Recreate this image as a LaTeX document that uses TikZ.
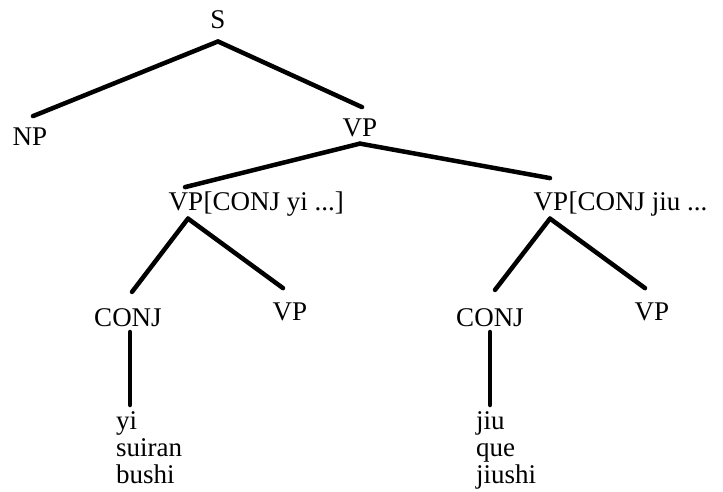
\documentclass[tikz,border=0pt]{standalone}
\usepackage{fontspec}
\setmainfont{Liberation Serif}
\usetikzlibrary{positioning}

\tikzset{
  cat/.style={inner sep=0pt, anchor=base, font=\fontsize{27}{27}\selectfont},
  words/.style={inner sep=0pt, anchor=north west, align=left, font=\fontsize{27}{27}\selectfont},
  branch/.style={line width=4.5pt, line cap=round},
}

\begin{document}
\begin{tikzpicture}[x=1pt,y=-1pt]
\useasboundingbox (0,0) rectangle (723,492);
% categories
\node[cat] (S) at (218,29) {S};
\node[cat] (NP) at (30,146) {NP};
\node[cat] (VP) at (360,137) {VP};
\node[cat] (VPyi) at (186,211) {VP};
\node[cat, anchor=base west] (yifeat) at (VPyi.base east) {[CONJ yi ...]};
\node[cat] (VPjiu) at (551,211) {VP};
\node[cat, anchor=base west] (jiufeat) at (VPjiu.base east) {[CONJ jiu ...};
\node[cat] (CONJyi) at (128,326) {CONJ};
\node[cat] (VPa) at (290,320) {VP};
\node[cat] (CONJjiu) at (490,326) {CONJ};
\node[cat] (VPb) at (652,320) {VP};
% lexical items
\node[words] (yiwords) at (116,411) {yi\\suiran\\bushi};
\node[words] (jiuwords) at (476,411) {jiu\\que\\jiushi};

% S
\draw[branch] ([yshift=-12pt]S.south) -- ([xshift=3pt,yshift=12pt]NP.north);
\draw[branch] ([yshift=-12pt]S.south) -- ([xshift=2pt,yshift=12pt]VP.north);
% VP
\draw[branch] ([yshift=-6pt]VP.south) -- ([xshift=-1pt,yshift=6pt]VPyi.north);
\draw[branch] ([yshift=-6pt]VP.south) -- ([xshift=-1pt,yshift=15pt]VPjiu.north);
% VP[CONJ yi ...]
\draw[branch] ([xshift=2pt,yshift=-7pt]VPyi.south) -- ([xshift=4pt,yshift=16pt]CONJyi.north);
\draw[branch] ([xshift=2pt,yshift=-7pt]VPyi.south) -- ([xshift=-7pt,yshift=14pt]VPa.north);
% VP[CONJ jiu ...
\draw[branch] ([xshift=-1pt,yshift=-7pt]VPjiu.south) -- ([xshift=5pt,yshift=18pt]CONJjiu.north);
\draw[branch] ([xshift=-1pt,yshift=-7pt]VPjiu.south) -- ([xshift=-7pt,yshift=14pt]VPb.north);
% CONJ
\draw[branch] ([xshift=2pt,yshift=-6pt]CONJyi.base) -- ([xshift=14pt,yshift=6pt]yiwords.north west);
\draw[branch] ([yshift=-6pt]CONJjiu.base) -- ([xshift=14pt,yshift=6pt]jiuwords.north west);
\end{tikzpicture}
\end{document}
